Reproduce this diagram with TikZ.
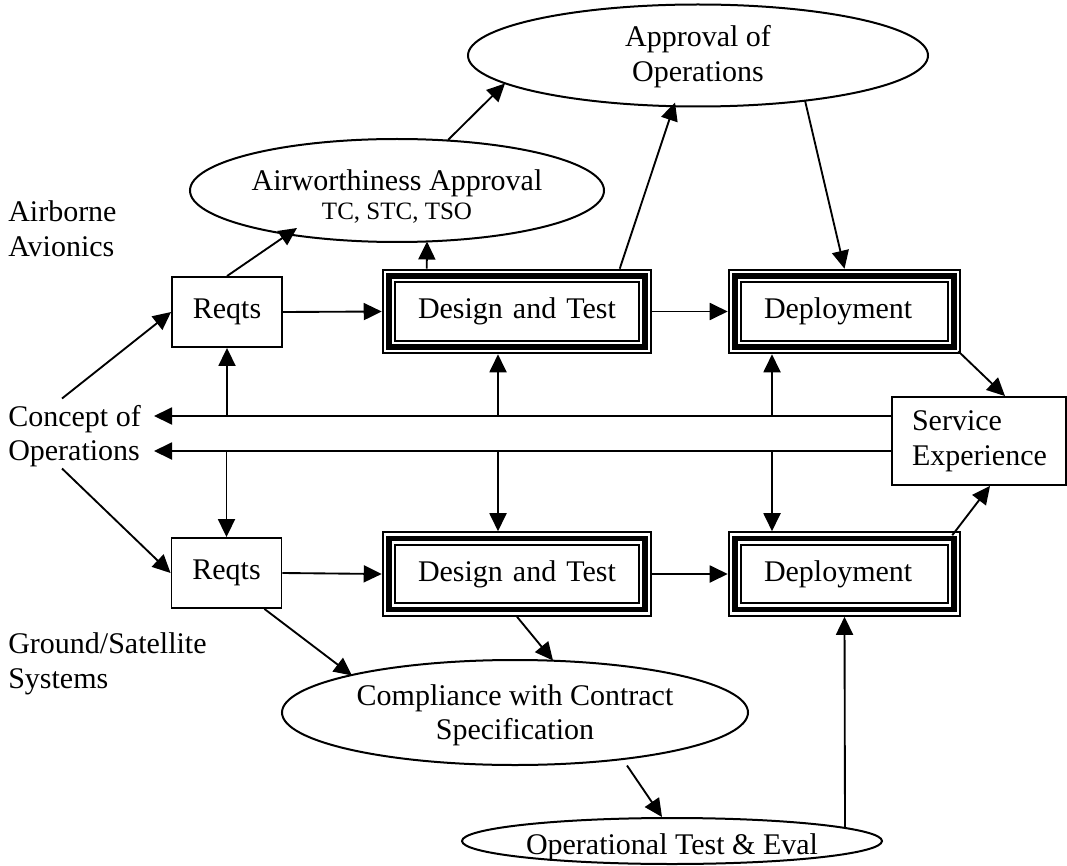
\documentclass[tikz,border=0pt]{standalone}
\usepackage{fontspec}
\setmainfont{Liberation Serif}
\usetikzlibrary{arrows.meta,calc,shapes.geometric}
\begin{document}
\def\u{0.75pt}
\begin{tikzpicture}[x=0.75pt,y=-0.75pt,
  every node/.style={font=\fontsize{22.5pt}{25.9pt}\selectfont, inner sep=0pt},
  arr/.style={line width=1.4pt,-{Triangle[length=13.5pt,width=12.75pt]}},
  box/.style={draw,line width=1.4pt,align=center},
  tbox/.style={minimum height=85*\u,align=left,inner xsep=36*\u},
  ell/.style={draw,ellipse,line width=1.5pt,inner sep=0pt},
  etext/.style={align=center},
  lab/.style={align=left,anchor=west}
]
\useasboundingbox (0,0) rectangle (1067,866);

% side labels
\node[lab] (ab) at (8,228.5) {Airborne\\Avionics};
\node[lab] (co) at (8,436) {Concept of\\Operations};
\node[lab] (gs) at (8,664) {Ground/Satellite\\Systems};

% ellipses
\node[ell,minimum width=460*\u,minimum height=102*\u] (ap) at (698,55.5) {};
\node[etext] (apt) at ($(ap.center)+(0,1)$) {Approval of\\Operations};
\node[ell,minimum width=414*\u,minimum height=103*\u] (aw) at (397,190.5) {};
\node[etext] (awt) at ($(aw.center)+(0,6)$)
  {Airworthiness Approval\\[-4.5pt]{\fontsize{18.75pt}{21pt}\selectfont TC, STC, TSO}};
\node[ell,minimum width=466*\u,minimum height=105*\u] (cc) at (515,712.5) {};
\node[etext] (cct) at ($(cc.center)+(0,3)$) {Compliance with Contract\\Specification};
\node[ell,minimum width=420*\u,minimum height=46*\u] (ot) at (672,841) {};
\node[etext] (ott) at ($(ot.center)+(0,6)$) {Operational Test \& Eval};

% boxes
\node[box,minimum width=110*\u,minimum height=70*\u] (r1) at (227,312) {Reqts};
\node[box,minimum width=110*\u,minimum height=70*\u] (r2) at (226.5,573) {Reqts};
\node[tbox,text width=198*\u] (dt1) at (517,311.5) {Design and Test};
\node[tbox,text width=161*\u] (dp1) at (844.5,311.5) {Deployment};
\node[tbox,text width=198*\u] (dt2) at (517,574) {Design and Test};
\node[tbox,text width=161*\u] (dp2) at (844.5,574) {Deployment};
\node[draw,line width=1.4pt,minimum height=88*\u,text width=134*\u,inner xsep=20*\u,align=left] (se) at (979,441) {Service\\Experience};

% triple borders
\foreach \n in {dt1,dp1,dt2,dp2}{
  \draw[line width=1.8*\u] ([shift={(0.9,0.9)}]\n.north west) rectangle ([shift={(-0.9,-0.9)}]\n.south east);
  \draw[line width=5.7*\u] ([shift={(7.15,7.15)}]\n.north west) rectangle ([shift={(-7.15,-7.15)}]\n.south east);
  \draw[line width=2.4*\u] ([shift={(13.5,13.5)}]\n.north west) rectangle ([shift={(-13.5,-13.5)}]\n.south east);
}

% helper coordinates
\coordinate (ya) at (154,416);
\coordinate (yb) at (154,451);
\coordinate (v2) at (498,0);
\coordinate (v3) at (772,0);

% connectors
\draw[arr] ($(co.west)+(54,-37.5)$) -- (r1.west);
\draw[arr] ($(co.west)+(54,32.5)$) -- (r2.west);
\draw[arr] (r1.north) -- ($(aw.center)+(-100,37.5)$);
\draw[arr] ($(dt1.north west)+(45,0)$) -- ($(aw.center)+(30,51)$);
\draw[arr] ($(aw.center)+(51,-50.5)$) -- ($(ap.center)+(-193,28)$);
\draw[arr] ($(dt1.north west)+(238,0)$) -- ($(ap.center)+(-23,47)$);
\draw[arr] ($(ap.center)+(107,45)$) -- (dp1.north);
\draw[arr] (r1.east) -- (dt1.west);
\draw[arr] (dt1.east) -- (dp1.west);
\draw[arr] ($(dp1.south east)+(-3,-3)$) -- ($(se.north)+(26,0)$);
\draw[arr] ($(dp2.north east)+(-9,4)$) -- ($(se.south)+(11,0)$);
\draw[arr] (se.west |- ya) -- (ya);
\draw[arr] (se.west |- yb) -- (yb);
\draw[arr] (r1.south |- ya) -- (r1.south);
\draw[arr] (r2.north |- yb) -- (r2.north);
\draw[arr] (v2 |- ya) -- (v2 |- dt1.south);
\draw[arr] (v2 |- yb) -- (v2 |- dt2.north);
\draw[arr] (v3 |- ya) -- (v3 |- dp1.south);
\draw[arr] (v3 |- yb) -- (v3 |- dp2.north);
\draw[arr] (r2.east) -- (dt2.west);
\draw[arr] (dt2.east) -- (dp2.west);
\draw[arr] ($(r2.south east)+(-18,0)$) -- ($(cc.center)+(-163,-37)$);
\draw[arr] (dt2.south) -- ($(cc.center)+(38,-52)$);
\draw[arr] ($(cc.center)+(112,53)$) -- ($(ot.center)+(-10,-24)$);
\draw[arr] ($(ot.center)+(173,-14)$) -- (dp2.south);
\end{tikzpicture}
\end{document}
